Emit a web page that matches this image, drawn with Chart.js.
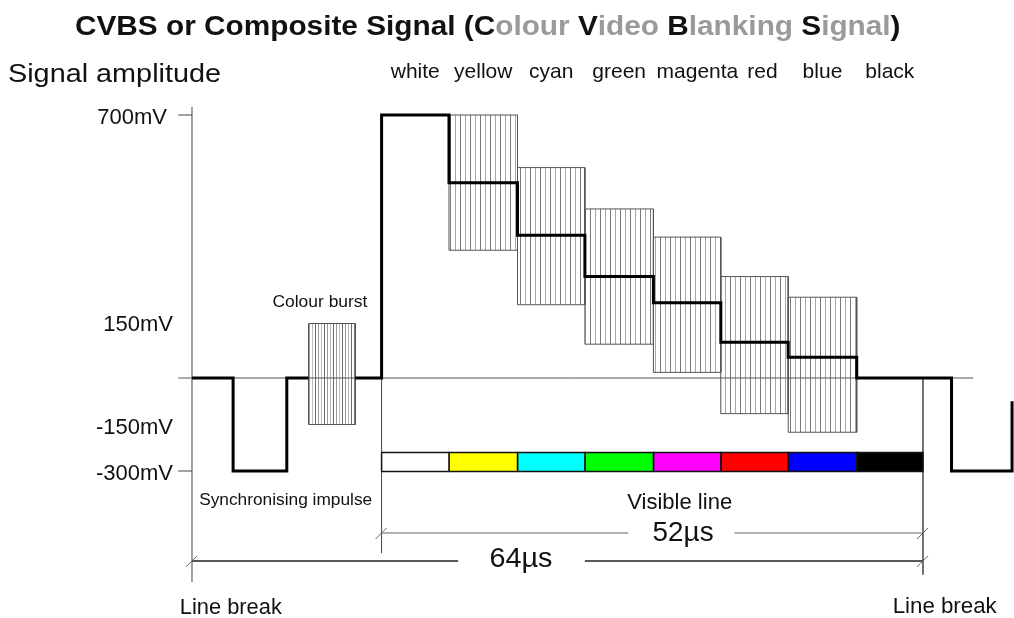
<!DOCTYPE html>
<html>
<head>
<meta charset="utf-8">
<script src="https://cdn.jsdelivr.net/npm/chart.js@4.4.1/dist/chart.umd.min.js"></script>
<style>
  html, body { margin: 0; padding: 0; background: #fff; }
  canvas { display: block; }
</style>
</head>
<body>
<canvas id="cvbs" width="1014" height="618"></canvas>
<script>
// CVBS line: time in µs from the left line break, level in mV
const signalTimes  = [0, 3.6, 8.3, 10.2, 12.2, 14.3, 16.6, 22.5, 28.5, 34.4, 40.4, 46.3, 52.2, 58.2, 66.5, 71.8];
const signalLevels = [0, -300, 0, 0, null, 0, 700, 520, 380, 270, 200, 95, 55, 0, -300, -75];

// colour bars
const barNames     = ['white', 'yellow', 'cyan', 'green', 'magenta', 'red', 'blue', 'black'];
const barColours   = ['#ffffff', '#ffff00', '#00ffff', '#00ff00', '#ff00ff', '#ff0000', '#0000ff', '#000000'];
const barStarts    = [16.6, 22.5, 28.5, 34.4, 40.4, 46.3, 52.2, 58.2];
const barEnds      = [22.5, 28.5, 34.4, 40.4, 46.3, 52.2, 58.2, 64.0];
const chromaTops    = [null, 700, 560, 450, 375, 270, 215, null];
const chromaBottoms = [null, 340, 195, 90, 15, -115, -175, null];
const stripTop = -240, stripBottom = -302;

// colour burst
const burstStart = 10.2, burstEnd = 14.3, burstTop = 145, burstBottom = -150;

// y axis labels
const tickValues = [700, 150, -150, -300];
const tickLabels = ['700mV', '150mV', '-150mV', '-300mV'];

// a y scale whose negative half is squeezed, like the drawing
class SplitScale extends Chart.LinearScale {
  static id = 'split';
  warp(v) { return v < 0 ? v * this.options.belowRatio : v; }
  getPixelForValue(v) {
    if (v === null || v === undefined || isNaN(v)) return NaN;
    const lo = this.warp(this.min), hi = this.warp(this.max);
    return this.getPixelForDecimal((this.warp(v) - lo) / (hi - lo));
  }
  getValueForPixel(p) {
    const lo = this.warp(this.min), hi = this.warp(this.max);
    const u = lo + this.getDecimalForPixel(p) * (hi - lo);
    return u < 0 ? u / this.options.belowRatio : u;
  }
}
Chart.register(SplitScale);

function hatch(step, colours) {
  const c = document.createElement('canvas');
  c.width = step * colours.length; c.height = 4;
  const g = c.getContext('2d');
  colours.forEach((col, i) => { g.fillStyle = col; g.fillRect(i * step, 0, 1, 4); });
  return g.createPattern(c, 'repeat');
}
const boxHatch = hatch(5, ['#7a7a7a', '#a8a8a8']);
const burstHatch = hatch(3, ['#6a6a6a', '#9a9a9a', '#bbbbbb']);

function rect(x0, x1, y0, y1) {
  return [{x: x0, y: y0}, {x: x0, y: y1}, {x: x1, y: y1}, {x: x1, y: y0}, {x: x0, y: y0}];
}

const datasets = [];
datasets.push({
  label: 'signal',
  data: signalTimes.map((t, i) => ({x: t, y: signalLevels[i]})),
  borderColor: '#000', borderWidth: 3, stepped: 'before', fill: false, order: 0
});
datasets.push({
  label: 'blanking level',
  data: [{x: -1.2, y: 0}, {x: 68.4, y: 0}],
  borderColor: '#555', borderWidth: 1, fill: false, order: 1
});
barNames.forEach((name, i) => {
  datasets.push({
    label: name,
    data: rect(barStarts[i], barEnds[i], stripBottom, stripTop),
    backgroundColor: barColours[i], borderColor: '#111', borderWidth: 1.5,
    fill: 'shape', order: 2
  });
  if (chromaTops[i] !== null) {
    datasets.push({
      label: name + ' chroma',
      data: rect(barStarts[i], barEnds[i], chromaBottoms[i], chromaTops[i]),
      backgroundColor: boxHatch, borderColor: '#555', borderWidth: 1,
      fill: 'shape', order: 3
    });
  }
});
datasets.push({
  label: 'burst',
  data: rect(burstStart, burstEnd, burstBottom, burstTop),
  backgroundColor: burstHatch, borderColor: '#555', borderWidth: 1,
  fill: 'shape', order: 3
});

function stretchText(ctx, str, x, y, width, align) {
  const w = ctx.measureText(str).width;
  const sx = width ? width / w : 1;
  ctx.save();
  ctx.translate(x, y);
  ctx.scale(sx, 1);
  ctx.textAlign = align || 'center';
  ctx.textBaseline = 'middle';
  ctx.fillText(str, 0, 0);
  ctx.restore();
}

const FONT = '"Liberation Sans", Arial, sans-serif';

const diagramLines = {
  id: 'diagramLines',
  beforeDatasetsDraw(chart) {
    const {ctx, scales: {x, y}} = chart;
    ctx.save();
    ctx.strokeStyle = '#444';
    const seg = (x0, y0, x1, y1, w) => {
      ctx.lineWidth = w;
      ctx.beginPath();
      ctx.moveTo(x.getPixelForValue(x0), y.getPixelForValue(y0));
      ctx.lineTo(x.getPixelForValue(x1), y.getPixelForValue(y1));
      ctx.stroke();
    };
    // line breaks and start of visible line
    seg(0, 721, 0, -658, 1);
    seg(16.6, 0, 16.6, -565, 1);
    seg(64, 0, 64, -635, 1.5);
    // axis ticks
    seg(-1.2, 700, 0, 700, 1);
    seg(-1.2, -300, 0, -300, 1);
    // dimension lines
    ctx.strokeStyle = '#666';
    seg(16.6, -500, 38.2, -500, 1);
    seg(47.5, -500, 64, -500, 1);
    ctx.strokeStyle = '#222';
    seg(0, -590, 23.3, -590, 1.5);
    seg(34.4, -590, 64, -590, 1.5);
    // little slashes at the ends
    ctx.strokeStyle = '#666';
    ctx.lineWidth = 1;
    [[0, -590], [16.6, -500], [64, -500], [64, -590]].forEach(([t, v]) => {
      const px = x.getPixelForValue(t), py = y.getPixelForValue(v);
      ctx.beginPath();
      ctx.moveTo(px - 6, py + 6);
      ctx.lineTo(px + 5, py - 5);
      ctx.stroke();
    });
    ctx.restore();
  },
  afterDatasetsDraw(chart) {
    const {ctx, scales: {x, y}} = chart;
    ctx.save();
    ctx.fillStyle = '#111';

    // title with the CVBS letters picked out
    const pieces = [['CVBS or Composite Signal (', '#111'], ['C', '#111'], ['olour ', '#9a9a9a'],
      ['V', '#111'], ['ideo ', '#9a9a9a'], ['B', '#111'], ['lanking ', '#9a9a9a'],
      ['S', '#111'], ['ignal', '#9a9a9a'], [')', '#111']];
    ctx.font = 'bold 28px ' + FONT;
    const full = pieces.map(p => p[0]).join('');
    const sx = 825 / ctx.measureText(full).width;
    let left = 75;
    pieces.forEach(([s, col]) => {
      const w = ctx.measureText(s).width * sx;
      ctx.fillStyle = col;
      stretchText(ctx, s, left, 27, w, 'left');
      left += w;
    });

    ctx.fillStyle = '#111';
    ctx.font = '25px ' + FONT;
    stretchText(ctx, 'Signal amplitude', 8, 75, 213, 'left');

    // y labels
    ctx.font = '22px ' + FONT;
    tickValues.forEach((v, i) => {
      const right = v === 700 ? 167 : 173;
      stretchText(ctx, tickLabels[i], right, y.getPixelForValue(v) + 3, null, 'right');
    });

    // colour names above the bars
    const nudge = {red: 0.7, magenta: 0.9};
    ctx.font = '21px ' + FONT;
    barNames.forEach((n, i) => {
      const mid = (barStarts[i] + barEnds[i]) / 2 + (nudge[n] || 0);
      stretchText(ctx, n, x.getPixelForValue(mid), 72, null, 'center');
    });

    const notes = [
      ['Colour burst', 11.2, 202, 16, 95],
      ['Synchronising impulse', 8.2, -394, 16, 173],
      ['Visible line', 42.7, -403, 22, 105],
      ['52µs', 43.0, -500, 28, 61],
      ['64µs', 28.8, -585, 28, 63],
      ['Line break', 3.4, -742, 22, 102],
      ['Line break', 65.9, -739, 22, 104]
    ];
    notes.forEach(([s, t, v, size, w]) => {
      ctx.font = size + 'px ' + FONT;
      stretchText(ctx, s, x.getPixelForValue(t), y.getPixelForValue(v), w, 'center');
    });
    ctx.restore();
  }
};

new Chart(document.getElementById('cvbs'), {
  type: 'line',
  data: {datasets: datasets},
  options: {
    responsive: false,
    animation: false,
    events: [],
    layout: {padding: 0},
    elements: {point: {radius: 0}, line: {tension: 0, borderJoinStyle: 'miter'}},
    plugins: {legend: {display: false}, tooltip: {enabled: false}, title: {display: false}},
    scales: {
      x: {type: 'linear', min: -16.81, max: 71.97, display: false},
      y: {type: 'split', min: -774.2, max: 1006.1, belowRatio: 0.8251, display: false}
    }
  },
  plugins: [diagramLines]
});
</script>
</body>
</html>
